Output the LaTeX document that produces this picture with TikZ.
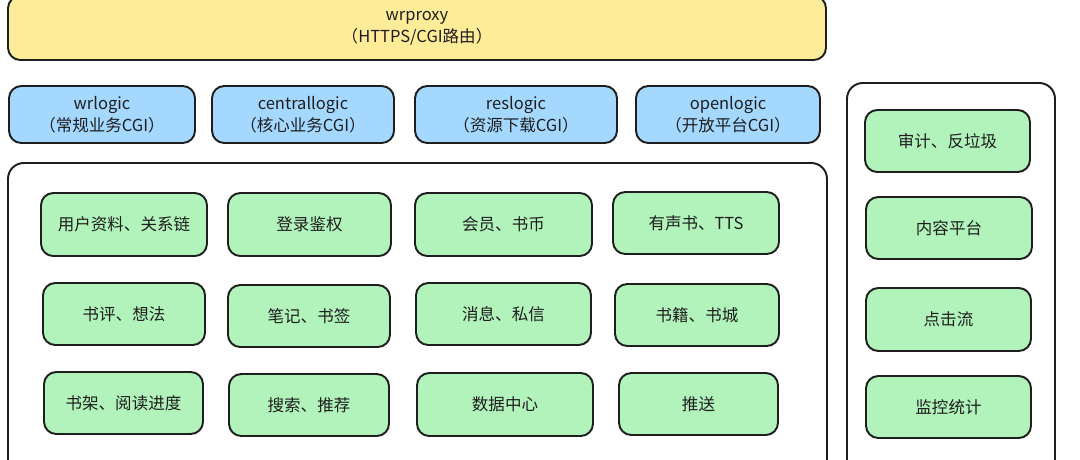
\documentclass[tikz,border=0pt]{standalone}
\usepackage{fontspec}
\setmainfont{Noto Sans CJK SC}
\definecolor{ink}{HTML}{1E1E1E}
\definecolor{yfill}{HTML}{FFEC99}
\definecolor{bfill}{HTML}{A5D8FF}
\definecolor{gfill}{HTML}{B2F2BB}
\tikzset{
  px/.style={x=0.02cm,y=-0.02cm},
  base/.style={draw=ink, line width=1.1pt, rounded corners=7pt, text=ink, align=center,
    font=\fontsize{9.4}{12.5}\selectfont, inner sep=0pt},
  ybox/.style={base, fill=yfill},
  bbox/.style={base, fill=bfill},
  gbox/.style={base, fill=gfill},
  frame/.style={draw=ink, line width=1.1pt, rounded corners=9pt, fill=white},
}
\newcommand{\bx}[6]{% style, name, x1, y1, x2, y2 , text via next arg
  \node[#1, minimum width={(#5-#3)*0.02cm}, minimum height={(#6-#4)*0.02cm}] (#2) at ({(#3+#5)/2},{(#4+#6)/2})}
\begin{document}
\begin{tikzpicture}[px]
\useasboundingbox (0,0) rectangle (1080,460);
\clip (0,0) rectangle (1080,460);
% top proxy
\bx{ybox}{proxy}{8}{-4}{826}{60} {\raisebox{0pt}{wrproxy}\\（HTTPS/CGI路由）};
% logic layer
\bx{bbox}{wrlogic}{9}{86}{195}{143} {wrlogic\\（常规业务CGI）};
\bx{bbox}{central}{212}{86}{394}{143} {centrallogic\\（核心业务CGI）};
\bx{bbox}{reslogic}{415}{86}{617}{143} {reslogic\\（资源下载CGI）};
\bx{bbox}{openlogic}{636}{86}{820}{143} {openlogic\\（开放平台CGI）};
% core container
\bx{frame}{core}{8}{163}{827}{480} {};
% side container
\bx{frame}{side}{847}{83}{1055}{480} {};
% service grid
\bx{gbox}{g11}{41}{193}{207}{256} {用户资料、关系链};
\bx{gbox}{g12}{228}{193}{391}{256} {登录鉴权};
\bx{gbox}{g13}{415}{193}{592}{256} {会员、书币};
\bx{gbox}{g14}{613}{192}{779}{254} {有声书、TTS};
\bx{gbox}{g21}{43}{283}{205}{345} {书评、想法};
\bx{gbox}{g22}{228}{285}{390}{347} {笔记、书签};
\bx{gbox}{g23}{416}{283}{591}{345} {消息、私信};
\bx{gbox}{g24}{615}{284}{779}{346} {书籍、书城};
\bx{gbox}{g31}{44}{372}{203}{434} {书架、阅读进度};
\bx{gbox}{g32}{229}{374}{389}{436} {搜索、推荐};
\bx{gbox}{g33}{417}{373}{593}{436} {数据中心};
\bx{gbox}{g34}{619}{373}{778}{435} {推送};
% side services
\bx{gbox}{s1}{865}{110}{1030}{172} {审计、反垃圾};
\bx{gbox}{s2}{866}{197}{1032}{259} {内容平台};
\bx{gbox}{s3}{866}{288}{1031}{351} {点击流};
\bx{gbox}{s4}{866}{376}{1031}{438} {监控统计};
\end{tikzpicture}
\end{document}
